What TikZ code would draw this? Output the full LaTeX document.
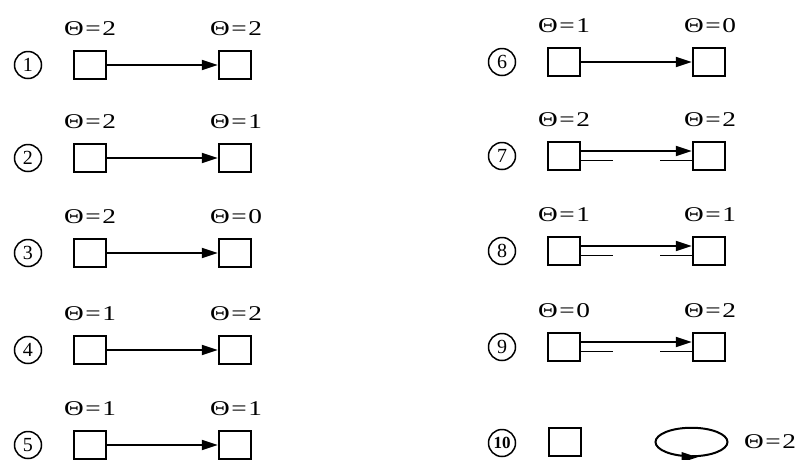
\documentclass[tikz,border=0pt]{standalone}
\usepackage{fontspec}
\setmainfont{Liberation Serif}
\usetikzlibrary{arrows.meta,calc,shapes.geometric}
\begin{document}
\begin{tikzpicture}[x=1pt,y=-1pt,
  cell/.style={draw, line width=2pt, minimum width=32.5pt, minimum height=28.5pt, inner sep=0pt},
  lab/.style={inner sep=0pt, font=\fontsize{21}{21}\selectfont},
  num/.style={circle, draw, line width=1.5pt, minimum size=27pt, inner sep=0pt, font=\fontsize{20}{20}\selectfont},
  conn/.style={line width=1.8pt, -{Triangle[length=16pt,width=10pt]}},
  stub/.style={line width=1.8pt},
  loopshape/.style={draw, ellipse, line width=2pt, minimum width=72pt, minimum height=28.5pt, inner sep=0pt}]
\useasboundingbox (0,0) rectangle (803,459);
\newcommand{\thetaeq}[1]{\scalebox{1.3}[1]{Θ\kern1.2pt=\kern1.2pt#1}}
\foreach \i/\xo/\y/\p/\q/\dbl in {1/0/65/2/2/0, 2/0/158/2/1/0, 3/0/253/2/0/0, 4/0/350/1/2/0, 5/0/445/1/1/0, 6/474/62/1/0/0, 7/474/156/2/2/1, 8/474/251/1/1/1, 9/474/347/0/2/1}{
  \node[num] (n\i) at (28+\xo,\y) {\i};
  \node[cell] (a\i) at (90+\xo,\y) {};
  \node[cell] (b\i) at (235+\xo,\y) {};
  \node[lab] (la\i) at (90+\xo,\y-36) {\thetaeq{\p}};
  \node[lab] (lb\i) at (236+\xo,\y-36) {\thetaeq{\q}};
  \ifnum\dbl=0
    \draw[conn] (a\i) -- (b\i);
  \else
    \draw[conn] ($(a\i.east)+(0,-5)$) -- ($(b\i.west)+(0,-5)$);
    \draw[stub] ($(a\i.east)+(0,4.5)$) -- ++(32,0);
    \draw[stub] ($(b\i.west)+(0,4.5)$) -- ++(-32,0);
  \fi
}
\node[num, font=\fontsize{17}{17}\selectfont\bfseries] (n10) at (502,443) {10};
\node[cell] (a10) at (565,442) {};
\node[loopshape] (loop) at (691.5,442) {};
\draw[conn] ([xshift=-9pt]loop.south) -- ([xshift=6pt]loop.south);
\node[lab] (l10) at (770,442) {\thetaeq{2}};
\end{tikzpicture}
\end{document}
